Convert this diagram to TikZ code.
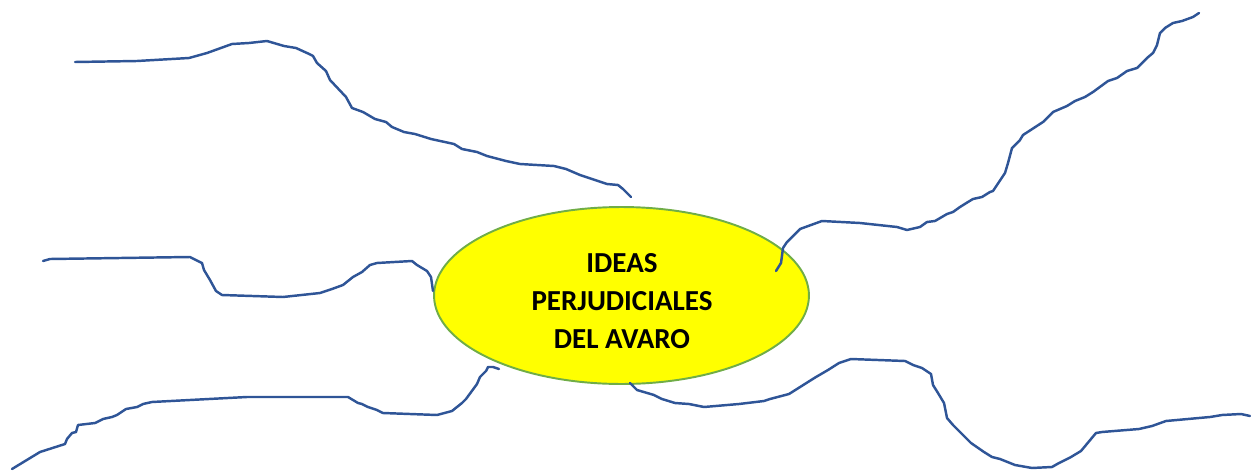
\documentclass[tikz,border=0pt]{standalone}
\usepackage{fontspec}
\setmainfont{Carlito}
\usetikzlibrary{shapes.geometric}
\definecolor{branchblue}{RGB}{47,85,151}
\definecolor{rimgreen}{RGB}{112,173,71}
\definecolor{hubyellow}{RGB}{255,255,0}

\begin{document}
\begin{tikzpicture}[x=0.02cm, y=-0.02cm, hub/.style={ellipse, draw=rimgreen, fill=hubyellow, line width=1.1pt, minimum width=7.5cm, minimum height=3.54cm, inner sep=0pt}, title/.style={align=center, font=\bfseries\fontsize{16.5}{21.6}\selectfont}, branch/.style={draw=branchblue, line width=1.4pt, line join=round, line cap=round}]
        \useasboundingbox (0,0) rectangle (1251,470);

        \node [hub] (hub) at (621.5,295.5) {};
        \node [title] (title) at (622,301) {IDEAS\\PERJUDICIALES\\DEL AVARO};

        \draw [branch] plot coordinates {(75,62) (137,61) (189,58) (207,53) (232,44) (249,43) (267,41) (284,46) (296,48) (307,53) (313,56) (317,63) (326,71) (330,80) (346,97) (352,108) (363,112) (375,119) (386,122) (392,127) (404,132) (415,134) (431,139) (454,144) (462,149) (477,152) (487,156) (506,161) (520,164) (554,166) (566,169) (580,175) (607,184) (618,185) (623,189) (631,197)};
        \draw [branch] plot coordinates {(776,271) (781,263) (783,248) (787,242) (800,229) (822,221) (860,223) (897,227) (907,230) (920,227) (927,222) (935,221) (947,214) (953,212) (960,207) (968,202) (973,199) (982,197) (990,192) (993,191) (1005,173) (1008,163) (1012,148) (1020,140) (1023,135) (1043,122) (1053,112) (1067,106) (1075,101) (1085,97) (1093,92) (1108,81) (1117,78) (1127,71) (1137,68) (1147,58) (1153,53) (1157,45) (1160,33) (1165,28) (1173,23) (1182,21) (1193,17) (1199,13)};
        \draw [branch] plot coordinates {(43,261) (50,259) (190,257) (202,263) (204,270) (210,280) (216,291) (222,295) (283,297) (320,293) (332,289) (343,285) (353,277) (362,272) (370,265) (377,263) (412,261) (417,265) (427,271) (431,277) (433,291)};
        \draw [branch] plot coordinates {(499,369) (493,367) (488,367) (486,371) (480,377) (477,384) (466,399) (462,403) (452,411) (437,415) (383,413) (377,410) (368,407) (362,404) (358,403) (348,397) (247,397) (152,402) (143,404) (137,407) (126,409) (117,415) (112,417) (103,419) (95,423) (78,425) (76,432) (72,433) (67,439) (65,444) (40,452) (12,469)};
        \draw [branch] plot coordinates {(630,383) (637,390) (654,395) (662,399) (675,403) (689,404) (704,407) (739,404) (764,401) (770,399) (789,394) (808,382) (816,377) (828,370) (839,363) (851,359) (905,361) (913,365) (922,368) (931,374) (933,385) (938,393) (944,403) (947,418) (953,425) (961,433) (971,443) (984,452) (992,457) (1000,459) (1015,465) (1032,468) (1052,467) (1059,463) (1071,457) (1081,451) (1096,433) (1102,432) (1139,429) (1152,426) (1166,421) (1210,417) (1222,415) (1241,414) (1250,416)};
\end{tikzpicture}
\end{document}
